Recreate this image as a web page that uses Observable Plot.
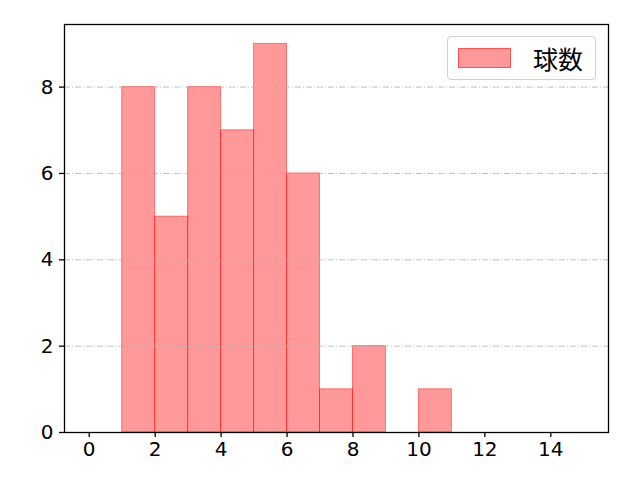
<!DOCTYPE html>
<html><head><meta charset="utf-8">
<script src="https://cdn.jsdelivr.net/npm/d3@7"></script>
<script src="https://cdn.jsdelivr.net/npm/@observablehq/plot@0.6"></script>
<style>
body{margin:0;background:#fff;}
#chart{position:relative;width:640px;height:480px;}
</style>
</head><body><div id="chart"></div>
<script>
const binStarts = [1, 2, 3, 4, 5, 6, 7, 8, 9, 10];
const binWidth = 1;
const counts = [8, 5, 8, 7, 9, 6, 1, 2, 0, 1];
const seriesName = "球数";
const xTicks = [0, 2, 4, 6, 8, 10, 12, 14];
const yTicks = [0, 2, 4, 6, 8];

const bins = binStarts.map((s, i) => ({x1: s, x2: s + binWidth, y: counts[i]})).filter(d => d.y > 0);
const font = "'DejaVu Sans', sans-serif";

const plot = Plot.plot({
  width: 640, height: 480,
  marginLeft: 64, marginRight: 32, marginTop: 24, marginBottom: 48,
  style: {fontFamily: font, fontSize: "20px", background: "white", color: "black"},
  x: {domain: [-0.75, 15.75], label: null},
  y: {domain: [0, 9.45], label: null},
  marks: [
    Plot.rectY(bins, {x1: "x1", x2: "x2", y: "y", fill: "red", fillOpacity: 0.4, stroke: "red", strokeOpacity: 0.45, strokeWidth: 1, inset: 0}),
    Plot.ruleY(yTicks.filter(t => t > 0), {stroke: "#b0b0b0", strokeWidth: 0.8, strokeDasharray: "6,2,1,2"}),
    Plot.frame({stroke: "black", strokeWidth: 1.3}),
    Plot.axisX({ticks: xTicks, tickSize: 5, tickPadding: 4, strokeWidth: 1.3, fontSize: 20, tickFormat: d => String(d)}),
    Plot.axisY({ticks: yTicks, tickSize: 5, tickPadding: 6, strokeWidth: 1.3, fontSize: 20, tickFormat: d => String(d)})
  ]
});
d3.select(plot).selectAll("text")
  .attr("font-size", 20)
  .style("font-size", "20px")
  .style("font-family", font);
document.getElementById("chart").appendChild(plot);

const lg = document.createElement("div");
lg.style.cssText = "position:absolute;left:447px;top:36px;width:149px;height:44px;border:1px solid #d0d0d0;border-radius:4px;background:rgba(255,255,255,0.8);box-sizing:border-box;font-family:Roboto, 'Noto Sans CJK JP', sans-serif;font-size:25px;display:flex;align-items:center;";
lg.innerHTML = '<span style="display:inline-block;width:53px;height:20px;margin-left:10px;background:rgba(255,0,0,0.4);border:1px solid rgba(255,0,0,0.45);box-sizing:border-box;"></span><span style="margin-left:22px;">' + seriesName + '</span>';
document.getElementById("chart").appendChild(lg);
</script>
</body></html>
